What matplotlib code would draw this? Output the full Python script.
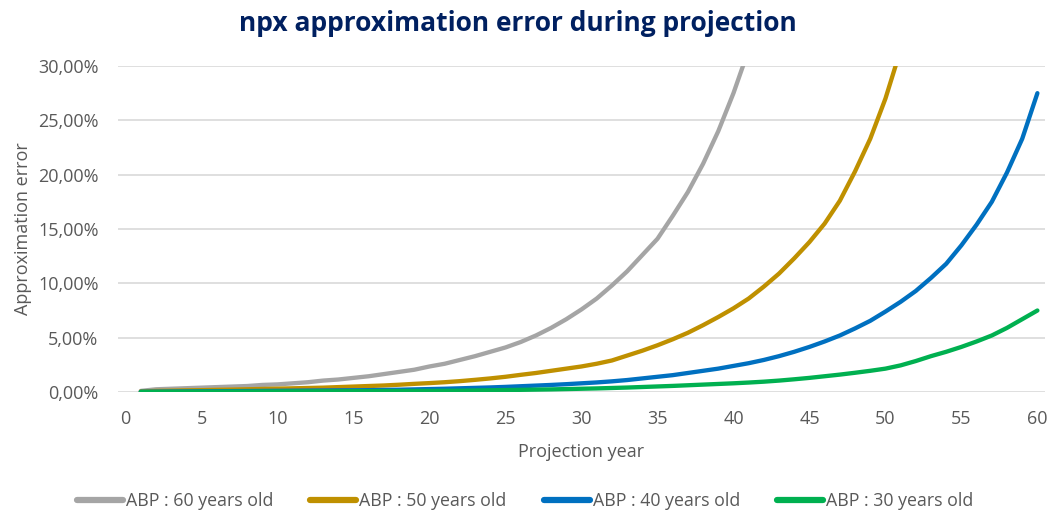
import matplotlib
matplotlib.use("Agg")
import matplotlib.pyplot as plt
from matplotlib.ticker import FuncFormatter, MultipleLocator

years = list(range(1, 61))

abp60 = [0.10, 0.25, 0.30, 0.35, 0.40, 0.45, 0.50, 0.55, 0.65, 0.70,
         0.80, 0.90, 1.05, 1.15, 1.30, 1.45, 1.65, 1.85, 2.05, 2.35,
         2.60, 2.95, 3.30, 3.70, 4.10, 4.60, 5.20, 5.90, 6.70, 7.60,
         8.60, 9.80, 11.10, 12.60, 14.10, 16.20, 18.40, 21.00, 24.00, 27.50,
         31.50, 36.00]

abp50 = [0.05, 0.10, 0.12, 0.15, 0.17, 0.20, 0.22, 0.25, 0.28, 0.31,
         0.34, 0.37, 0.40, 0.45, 0.50, 0.55, 0.60, 0.67, 0.75, 0.82,
         0.90, 1.00, 1.12, 1.25, 1.40, 1.58, 1.75, 1.95, 2.15, 2.35,
         2.60, 2.90, 3.35, 3.80, 4.30, 4.85, 5.45, 6.15, 6.90, 7.70,
         8.60, 9.70, 10.90, 12.30, 13.80, 15.50, 17.60, 20.30, 23.30, 27.00,
         31.50, 36.50]

abp40 = [0.02, 0.03, 0.04, 0.05, 0.06, 0.07, 0.08, 0.09, 0.10, 0.11,
         0.12, 0.13, 0.14, 0.15, 0.16, 0.17, 0.19, 0.21, 0.24, 0.27,
         0.30, 0.34, 0.38, 0.42, 0.47, 0.53, 0.59, 0.65, 0.72, 0.80,
         0.88, 0.98, 1.10, 1.25, 1.40, 1.55, 1.75, 1.95, 2.15, 2.40,
         2.65, 2.95, 3.30, 3.70, 4.15, 4.65, 5.20, 5.85, 6.55, 7.40,
         8.30, 9.30, 10.50, 11.80, 13.50, 15.40, 17.50, 20.20, 23.30, 27.50]

abp30 = [0.01, 0.01, 0.02, 0.02, 0.03, 0.03, 0.04, 0.04, 0.05, 0.05,
         0.06, 0.06, 0.07, 0.07, 0.08, 0.08, 0.09, 0.09, 0.10, 0.10,
         0.11, 0.12, 0.14, 0.16, 0.18, 0.20, 0.22, 0.24, 0.27, 0.30,
         0.33, 0.37, 0.41, 0.46, 0.51, 0.56, 0.62, 0.68, 0.74, 0.80,
         0.87, 0.95, 1.05, 1.17, 1.30, 1.45, 1.60, 1.77, 1.95, 2.15,
         2.45, 2.85, 3.30, 3.70, 4.15, 4.65, 5.20, 5.90, 6.70, 7.50]

series = [
    ("ABP : 60 years old", abp60, "#A5A5A5"),
    ("ABP : 50 years old", abp50, "#BF9000"),
    ("ABP : 40 years old", abp40, "#0070C0"),
    ("ABP : 30 years old", abp30, "#00B050"),
]

title = "npx approximation error during projection"
xlabel = "Projection year"
ylabel = "Approximation error"

plt.rcParams['font.family'] = ['Open Sans', 'DejaVu Sans']
txt = "#595959"

fig = plt.figure(figsize=(10.51, 5.11), dpi=100)
ax = fig.add_axes([118/1051, 1-392/511, (1045-118)/1051, (392-66)/511])

for name, vals, col in series:
    ax.plot(years[:len(vals)], [v/100 for v in vals], color=col, lw=3.1,
            label=name, solid_capstyle='round', solid_joinstyle='round', clip_on=True)

ax.set_xlim(-0.5, 60.5)
ax.set_ylim(0, 0.30)
ax.xaxis.set_major_locator(MultipleLocator(5))
ax.yaxis.set_major_locator(MultipleLocator(0.05))
ax.yaxis.set_major_formatter(FuncFormatter(lambda v, p: f"{v*100:.2f}%".replace('.', ',')))
ax.grid(axis='y', color='#D9D9D9', lw=1.2)
ax.set_axisbelow(True)
for s in ax.spines.values():
    s.set_visible(False)
ax.tick_params(length=0, colors=txt, labelsize=13)
ax.tick_params(axis='y', pad=14)
ax.tick_params(axis='x', pad=13)

ax.set_xlabel(xlabel, color=txt, fontsize=13, labelpad=11)
ax.set_ylabel(ylabel, color=txt, fontsize=13, labelpad=4)

fig.text(0.493, 1-23/511, title, ha='center', va='center', fontsize=19,
         fontweight='bold', color='#002060')

leg = ax.legend(loc='center', bbox_to_anchor=(525/1051, 1-501/511),
                bbox_transform=fig.transFigure, ncol=4, frameon=False,
                fontsize=12.8, handlelength=2.6, handletextpad=0.15,
                columnspacing=2.1, borderaxespad=0)
for t in leg.get_texts():
    t.set_color(txt)
for l in leg.get_lines():
    l.set_linewidth(4.5)

fig.savefig("out.png", dpi=100)
